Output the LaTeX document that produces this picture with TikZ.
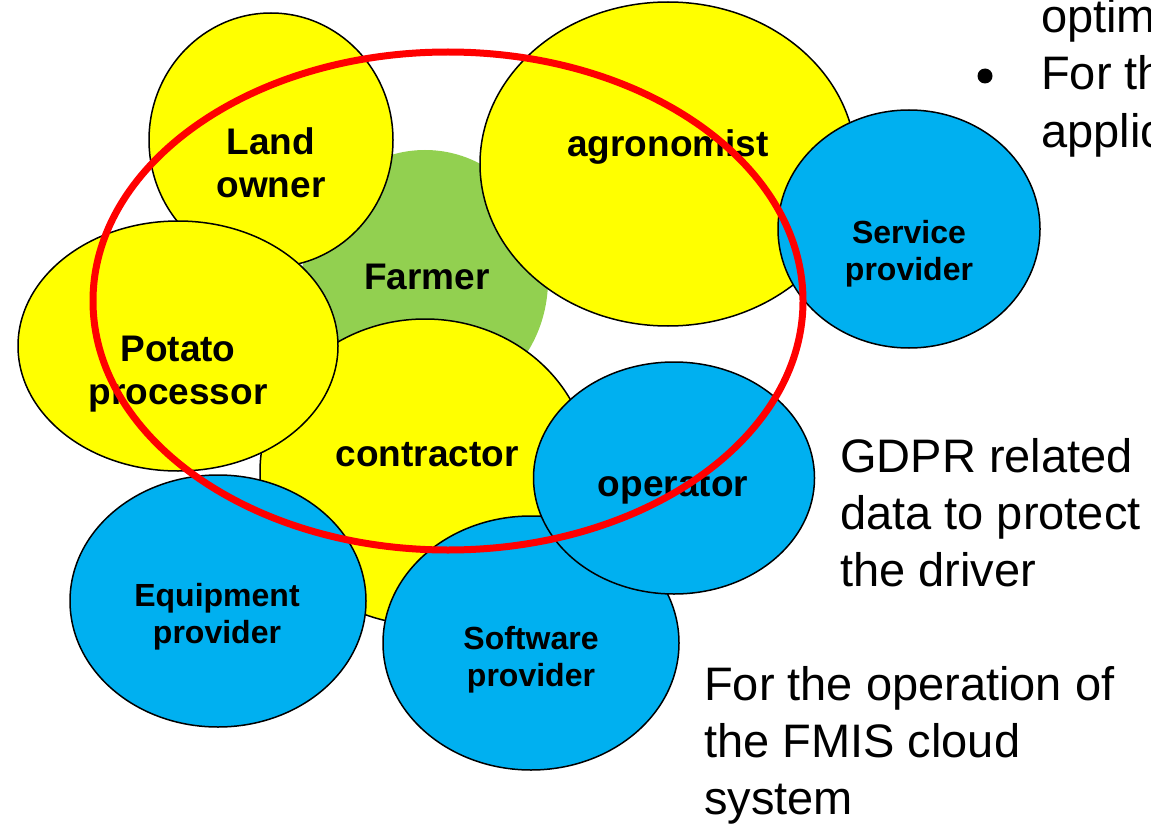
\documentclass[tikz,border=0pt]{standalone}
\usepackage{fontspec}
\setmainfont{Liberation Sans}
\usetikzlibrary{shapes.geometric, positioning}
\definecolor{bubyellow}{HTML}{FFFF00}
\definecolor{bubblue}{HTML}{00B0F0}
\definecolor{farmgreen}{HTML}{92D050}
\definecolor{ringred}{HTML}{FF0000}
\tikzset{
  bub/.style={ellipse, draw=black, line width=1.5pt, inner sep=0pt, outer sep=0pt},
  bubY/.style={bub, fill=bubyellow},
  bubB/.style={bub, fill=bubblue},
  bubG/.style={ellipse, fill=farmgreen, inner sep=0pt},
  ring/.style={ellipse, draw=ringred, line width=7pt, inner sep=0pt},
  sz/.style 2 args={minimum width=#1, minimum height=#2},
  lblL/.style={font=\fontsize{37}{43}\selectfont\bfseries, align=center, inner sep=0pt},
  lblS/.style={font=\fontsize{32}{37}\selectfont\bfseries, align=center, inner sep=0pt},
  note/.style={font=\fontsize{47}{57}\selectfont, align=left, inner sep=0pt, anchor=north west},
}

\begin{document}
\begin{tikzpicture}[x=1pt, y=-1pt]

  \useasboundingbox (0,0) rectangle (1151,824);

  % --- Bubbles ---
  \node[bubG, sz={246pt}{260pt}] (farmer) at (425,280) {};
  \node[bubY, sz={244pt}{254pt}] (land) at (271,140) {};
  \node[bubY, sz={376pt}{324pt}] (agro) at (668,164) {};
  \node[bubB, sz={262pt}{238pt}] (service) at (909,229) {};
  \node[bubY, sz={330pt}{306pt}] (contr) at (425,472) {};
  \node[bubY, sz={320pt}{250pt}] (potato) at (178,346) {};
  \node[bubB, sz={296pt}{252pt}] (equip) at (218,601) {};
  \node[bubB, sz={296pt}{254pt}] (soft) at (531,643) {};
  \node[bubB, sz={281pt}{232pt}] (oper) at (674,478) {};

  % --- Labels ---
  \node[lblL] (farmerlbl) at (427,277) {Farmer};
  \node[lblL] (landlbl) at (271,163) {Land\\owner};
  \node[lblL] (agrolbl) at (668,147) {agronomist};
  \node[lblS] (servicelbl) at (909,254) {Service\\provider};
  \node[lblL] (potatolbl) at (178,374) {Potato\\processor};
  \node[lblL] (contrlbl) at (427,455) {contractor};
  \node[lblL] (operlbl) at (673,488) {operator};
  \node[lblS] (equiplbl) at (217,617) {Equipment\\provider};
  \node[lblS] (softlbl) at (531,660) {Software\\provider};

  % --- Red boundary ---
  \node[ring, sz={710pt}{498pt}] (boundary) at (448,301) {};

  % --- Notes ---
  \node[note] (gdpr) at (840,438) {GDPR related\\data to protect\\the driver};
  \node[note] (fmis) at (704,666) {For the operation of\\the FMIS cloud\\system};
  \node[note, anchor=base west] (optim) at (1041,33) {optim};
  \node[note, anchor=base west] (forth) at (1041,90) {For th};
  \node[note, anchor=base west] (applic) at (1041,148) {applic};
  \node[circle, fill=black, minimum size=15pt, inner sep=0pt] (bullet) at (985,76) {};

\end{tikzpicture}
\end{document}
